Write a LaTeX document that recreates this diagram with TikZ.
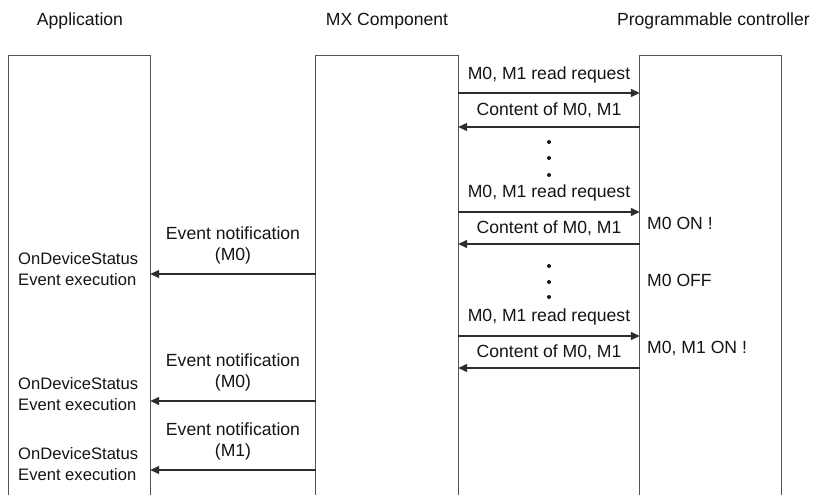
\documentclass[tikz,border=0pt]{standalone}
\usepackage{fontspec}
\setmainfont{Liberation Sans}
\usetikzlibrary{arrows.meta}
\definecolor{boxc}{RGB}{85,85,85}
\definecolor{arrc}{RGB}{45,45,45}
\definecolor{txt}{RGB}{20,20,20}
\begin{document}
\begin{tikzpicture}[x=1pt,y=-1pt,
  every node/.style={font=\fontsize{17.6}{21}\selectfont, text=txt, inner sep=0pt},
  life/.style={minimum width=141pt, minimum height=439pt, draw=none},
  lifeline/.style={draw=boxc, line width=1.3pt},
  msg/.style={draw=arrc, line width=1.3pt, -{Triangle[length=9pt,width=8pt]}},
  dotmark/.style={circle, fill=txt, minimum size=4pt, inner sep=0pt},
  lbl/.style={align=center},
  exec/.style={anchor=west, align=left, font=\fontsize{16.6}{21.5}\selectfont},
  ]
\useasboundingbox (0,0) rectangle (815,495);
% lifeline boxes (open at the bottom)
\node[life] (app) at (79.5,275.5) {};
\node[life, minimum width=142pt] (mx) at (387,275.5) {};
\node[life] (plc) at (710.5,275.5) {};
\foreach \b in {app,mx,plc}
  \draw[lifeline] (\b.south west) -- (\b.north west) -- (\b.north east) -- (\b.south east);
% headers
\node (happ) at (80,21) {Application};
\node (hmx) at (387,21) {MX Component};
\node[anchor=east] (hplc) at (810,21) {Programmable controller};
% ---- read cycles between MX Component and PLC
\node (t1) at (549,75) {M0, M1 read request};
\draw[msg] (mx.east |- 0,93) -- (plc.west |- 0,93);
\node (t2) at (549,110) {Content of M0, M1};
\draw[msg] (plc.west |- 0,127) -- (mx.east |- 0,127);
\node[dotmark] (d1) at (549,142) {};
\node[dotmark] (d2) at (549,158) {};
\node[dotmark] (d3) at (549,175) {};
\node (t3) at (549,193) {M0, M1 read request};
\draw[msg] (mx.east |- 0,212) -- (plc.west |- 0,212);
\node (t4) at (549,228) {Content of M0, M1};
\draw[msg] (plc.west |- 0,244) -- (mx.east |- 0,244);
\node[dotmark] (d4) at (549,266) {};
\node[dotmark] (d5) at (549,282) {};
\node[dotmark] (d6) at (549,297) {};
\node (t5) at (549,317) {M0, M1 read request};
\draw[msg] (mx.east |- 0,336) -- (plc.west |- 0,336);
\node (t6) at (549,352) {Content of M0, M1};
\draw[msg] (plc.west |- 0,368) -- (mx.east |- 0,368);
% PLC states
\node[anchor=west] (s1) at (647,223) {M0 ON !};
\node[anchor=west] (s2) at (647,280) {M0 OFF};
\node[anchor=west] (s3) at (647,348) {M0, M1 ON !};
% ---- events from MX Component to Application
\node[lbl] (e1) at (233,245) {Event notification\\(M0)};
\draw[msg] (mx.west |- 0,274) -- (app.east |- 0,274);
\node[exec] (x1) at (18,269) {OnDeviceStatus\\Event execution};
\node[lbl] (e2) at (233,372) {Event notification\\(M0)};
\draw[msg] (mx.west |- 0,401) -- (app.east |- 0,401);
\node[exec] (x2) at (18,394) {OnDeviceStatus\\Event execution};
\node[lbl] (e3) at (233,441) {Event notification\\(M1)};
\draw[msg] (mx.west |- 0,470) -- (app.east |- 0,470);
\node[exec] (x3) at (18,464) {OnDeviceStatus\\Event execution};
\end{tikzpicture}
\end{document}
